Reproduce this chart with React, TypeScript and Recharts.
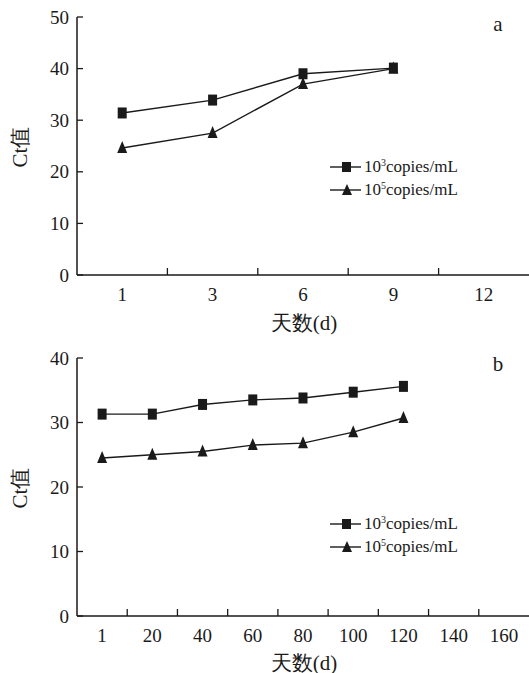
import React from 'react';
import { LineChart, Line, XAxis, YAxis, Legend } from 'recharts';

// panel a: storage days 1-12
const daysA = ['1', '3', '6', '9', '12'];
const ctA_1e3 = [31.4, 33.9, 39.0, 40.1, null];
const ctA_1e5 = [24.6, 27.5, 37.0, 40.0, null];
const ticksA = [0, 10, 20, 30, 40, 50];

// panel b: storage days 1-160
const daysB = ['1', '20', '40', '60', '80', '100', '120', '140', '160'];
const ctB_1e3 = [31.3, 31.3, 32.8, 33.5, 33.8, 34.7, 35.6, null, null];
const ctB_1e5 = [24.5, 25.0, 25.5, 26.5, 26.8, 28.5, 30.7, null, null];
const ticksB = [0, 10, 20, 30, 40];

const FONT = 'serif';
const CJK = "serif";
const INK = '#1a1a1a';
const W = 529;
const Y_AXIS_W = 77;

const SquareDot = (props: any) => {
  const { cx, cy } = props;
  if (cx == null || cy == null) return <g />;
  return <rect x={cx - 4.5} y={cy - 5.5} width={9} height={11} fill={INK} />;
};

const TriangleDot = (props: any) => {
  const { cx, cy } = props;
  if (cx == null || cy == null) return <g />;
  return <path d={`M${cx},${cy - 7} L${cx + 5},${cy + 5} L${cx - 5},${cy + 5} Z`} fill={INK} />;
};

const LegendBox = () => {
  const row = (tri: boolean, exp: string) => (
    <div style={{ display: 'flex', alignItems: 'center', height: 23 }}>
      <svg width={36} height={14} style={{ display: 'block' }}>
        <line x1={2} y1={7} x2={33} y2={7} stroke={INK} strokeWidth={1.4} />
        {tri ? <path d="M19,1 L24,12 L14,12 Z" fill={INK} /> : <rect x={14} y={2} width={9} height={10} fill={INK} />}
      </svg>
      <span style={{ fontFamily: FONT, fontSize: 17, color: INK, whiteSpace: 'nowrap' }}>
        10<sup style={{ fontSize: 10, verticalAlign: 6 }}>{exp}</sup>copies/mL
      </span>
    </div>
  );
  return (
    <div>
      {row(false, '3')}
      {row(true, '5')}
    </div>
  );
};

const makeXTick = (band: number, n: number) => (props: any) => {
  const { x, y, payload, index } = props;
  return (
    <g>
      <text x={x} y={y + 19} textAnchor="middle" dominantBaseline="central" fontFamily={FONT} fontSize={19} fill={INK}>
        {payload.value}
      </text>
      {index < n - 1 && <line x1={x + band / 2} y1={y} x2={x + band / 2} y2={y - 7} stroke={INK} strokeWidth={1.3} />}
    </g>
  );
};

const YTick = (props: any) => {
  const { x, y, payload } = props;
  return (
    <g>
      <text x={x - 8} y={y} textAnchor="end" dominantBaseline="central" fontFamily={FONT} fontSize={19} fill={INK}>
        {payload.value}
      </text>
      <line x1={x} y1={y} x2={x + 6} y2={y} stroke={INK} strokeWidth={1.3} />
    </g>
  );
};

interface PanelProps {
  days: string[];
  s3: (number | null)[];
  s5: (number | null)[];
  yTicks: number[];
  tag: string;
  height: number;
  top: number;
  bottom: number;
  legendTop: number;
}

const Panel = ({ days, s3, s5, yTicks, tag, height, top, bottom, legendTop }: PanelProps) => {
  const data = days.map((d, i) => ({ day: d, c3: s3[i], c5: s5[i] }));
  const band = (W - Y_AXIS_W) / days.length;
  const yMax = yTicks[yTicks.length - 1];
  const label: React.CSSProperties = { position: 'absolute', fontFamily: CJK, fontSize: 21, color: INK, whiteSpace: 'nowrap', lineHeight: 1 };
  return (
    <div style={{ position: 'relative', width: W, height }}>
      <LineChart width={W} height={height} data={data} margin={{ top, right: 0, left: 0, bottom }}>
        <XAxis
          dataKey="day"
          scale="band"
          interval={0}
          height={40}
          tickSize={0}
          tickMargin={0}
          tickLine={false}
          axisLine={{ stroke: INK, strokeWidth: 1.5 }}
          tick={makeXTick(band, days.length)}
        />
        <YAxis
          width={Y_AXIS_W}
          domain={[0, yMax]}
          ticks={yTicks}
          tickSize={0}
          tickMargin={0}
          tickLine={false}
          axisLine={{ stroke: INK, strokeWidth: 1.5 }}
          tick={<YTick />}
        />
        <Legend
          layout="vertical"
          verticalAlign="middle"
          align="center"
          content={() => <LegendBox />}
          wrapperStyle={{ left: 328, top: legendTop, width: 200 }}
        />
        <Line type="linear" dataKey="c3" stroke={INK} strokeWidth={1.4} dot={SquareDot} activeDot={false} isAnimationActive={false} />
        <Line type="linear" dataKey="c5" stroke={INK} strokeWidth={1.4} dot={TriangleDot} activeDot={false} isAnimationActive={false} />
      </LineChart>
      <div style={{ ...label, left: 20, top: top + 130, transform: 'translate(-50%, -50%) rotate(-90deg)' }}>Ct值</div>
      <div style={{ ...label, left: 304, top: 323, transform: 'translate(-50%, -50%)' }}>天数(d)</div>
      <div style={{ ...label, left: 498, top: 24, transform: 'translate(-50%, -50%)' }}>{tag}</div>
    </div>
  );
};

export default function App() {
  return (
    <div style={{ position: 'absolute', left: 0, top: 0, width: W, height: 673, background: '#fff', overflow: 'hidden' }}>
      <Panel days={daysA} s3={ctA_1e3} s5={ctA_1e5} yTicks={ticksA} tag="a" height={340} top={17} bottom={25} legendTop={155} />
      <Panel days={daysB} s3={ctB_1e3} s5={ctB_1e5} yTicks={ticksB} tag="b" height={333} top={18} bottom={17} legendTop={172} />
    </div>
  );
}
